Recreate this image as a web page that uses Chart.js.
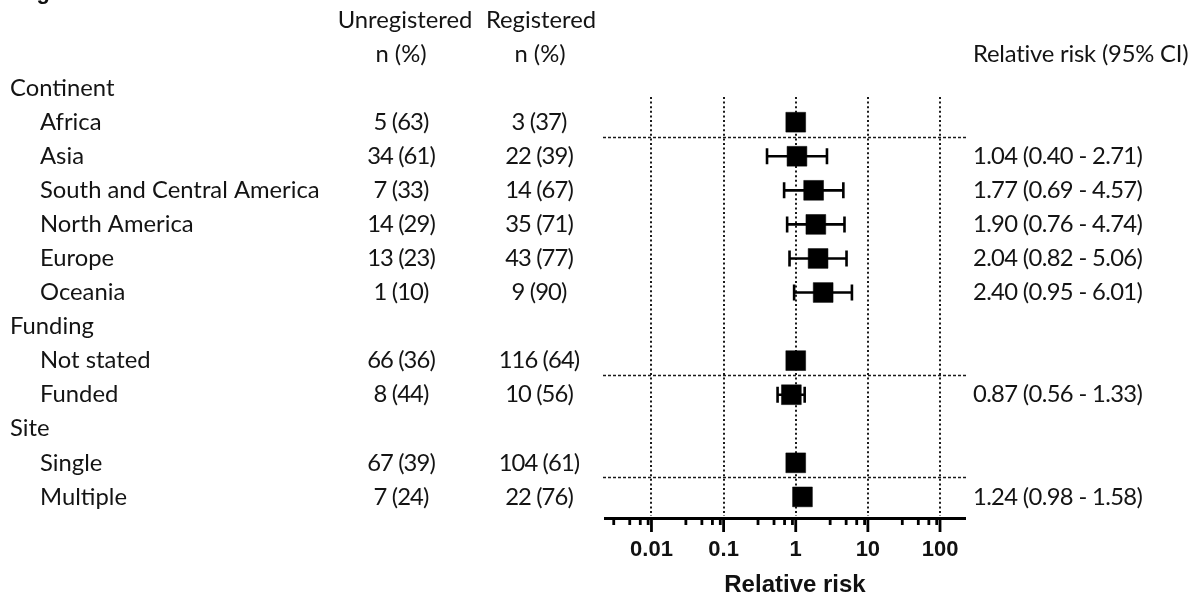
<!DOCTYPE html>
<html>
<head>
<meta charset="utf-8">
<script src="https://cdn.jsdelivr.net/npm/chart.js@4.4.0/dist/chart.umd.min.js"></script>
<style>
html,body{margin:0;padding:0;background:#fff;overflow:hidden;}
canvas{display:block;}
</style>
</head>
<body>
<canvas id="c" width="1203" height="598"></canvas>
<script>
// ---------- data ----------
const groups = ['Continent', 'Funding', 'Site'];
const items = ['Africa', 'Asia', 'South and Central America', 'North America', 'Europe', 'Oceania',
               'Not stated', 'Funded', 'Single', 'Multiple'];
const itemGroup = [0, 0, 0, 0, 0, 0, 1, 1, 2, 2];
const unregN   = [5, 34, 7, 14, 13, 1, 66, 8, 67, 7];
const unregPct = [63, 61, 33, 29, 23, 10, 36, 44, 39, 24];
const regN     = [3, 22, 14, 35, 43, 9, 116, 10, 104, 22];
const regPct   = [37, 39, 67, 71, 77, 90, 64, 56, 61, 76];
const rr       = [1, 1.04, 1.77, 1.90, 2.04, 2.40, 1, 0.87, 1, 1.24];
const ciLow    = [null, 0.40, 0.69, 0.76, 0.82, 0.95, null, 0.56, null, 0.98];
const ciHigh   = [null, 2.71, 4.57, 4.74, 5.06, 6.01, null, 1.33, null, 1.58];
const xTickValues = [0.01, 0.1, 1, 10, 100];
const xTickLabels = ['0.01', '0.1', '1', '10', '100'];
const minorMultipliers = [3, 5, 7, 9];
const headerTop = ['Unregistered', 'Registered'];
const headerSub = ['n (%)', 'n (%)', 'Relative risk (95% CI)'];
const xTitle = 'Relative risk';

// ---------- row layout (derived) ----------
const rows = [];
let r = 0;
groups.forEach((g, gi) => {
  rows.push({label: g, header: true, y: r++});
  items.forEach((it, ii) => {
    if (itemGroup[ii] === gi) rows.push({label: it, header: false, idx: ii, y: r++});
  });
});
const itemRow = {};
rows.forEach(row => { if (!row.header) itemRow[row.idx] = row.y; });
const refRows = items.map((_, i) => i).filter(i => ciLow[i] === null).map(i => itemRow[i]);
const points = items.map((_, i) => ({x: rr[i], y: itemRow[i]}));

const TXT = '#141414';
const TABLE_FONT = '23.8px Lato';
const COL_UNREG = 401, COL_REG = 539, COL_RR = 973;

const forestPlugin = {
  id: 'forest',
  beforeDatasetsDraw(chart) {
    const {ctx, chartArea: ca, scales: {x, y}} = chart;
    ctx.save();
    // dotted vertical grid lines at decades
    ctx.strokeStyle = '#1a1a1a';
    ctx.lineWidth = 2;
    ctx.setLineDash([2, 2.6]);
    xTickValues.forEach(v => {
      const px = Math.round(x.getPixelForValue(v));
      ctx.beginPath(); ctx.moveTo(px, ca.top); ctx.lineTo(px, ca.bottom - 2); ctx.stroke();
    });
    // dashed separators below reference rows
    ctx.setLineDash([3, 2]);
    ctx.lineWidth = 1.4;
    refRows.forEach(ry => {
      const py = Math.round(y.getPixelForValue(ry + 0.43)) + 0.5;
      ctx.beginPath(); ctx.moveTo(ca.left - 2, py); ctx.lineTo(ca.right + 3, py); ctx.stroke();
    });
    // error bars
    ctx.setLineDash([]);
    ctx.strokeStyle = '#000';
    ctx.lineWidth = 2.6;
    items.forEach((_, i) => {
      if (ciLow[i] === null) return;
      const py = y.getPixelForValue(itemRow[i]);
      const x1 = x.getPixelForValue(ciLow[i]);
      const x2 = x.getPixelForValue(ciHigh[i]);
      ctx.beginPath();
      ctx.moveTo(x1, py); ctx.lineTo(x2, py);
      ctx.moveTo(x1, py - 8); ctx.lineTo(x1, py + 8);
      ctx.moveTo(x2, py - 8); ctx.lineTo(x2, py + 8);
      ctx.stroke();
    });
    ctx.restore();
  },
  afterDraw(chart) {
    const {ctx, chartArea: ca, scales: {x, y}} = chart;
    ctx.save();
    // axis tick marks (major + minor)
    ctx.strokeStyle = '#000';
    ctx.lineWidth = 2.8;
    for (let d = -4; d <= 3; d++) {
      [1].concat(minorMultipliers).forEach(m => {
        const v = m * Math.pow(10, d);
        if (v < x.min || v > x.max) return;
        const px = x.getPixelForValue(v);
        const len = (m === 1) ? 14 : 7;
        ctx.beginPath(); ctx.moveTo(px, ca.bottom); ctx.lineTo(px, ca.bottom + len); ctx.stroke();
      });
    }
    // axis title
    ctx.fillStyle = '#111';
    ctx.font = 'bold 24px "Liberation Sans"';
    ctx.textAlign = 'center';
    ctx.textBaseline = 'middle';
    ctx.fillText(xTitle, 795, 585);
    // cut-off figure heading
    ctx.textAlign = 'left';
    ctx.textBaseline = 'alphabetic';
    ctx.font = 'bold 22px "Liberation Sans"';
    ctx.fillText('Fig', 17, -1);

    // table text
    ctx.fillStyle = TXT;
    ctx.font = TABLE_FONT;
    ctx.textBaseline = 'middle';
    const py = v => y.getPixelForValue(v);
    ctx.textAlign = 'center';
    ctx.fillText(headerTop[0], 405, py(-2));
    ctx.fillText(headerTop[1], 541, py(-2));
    ctx.fillText(headerSub[0], COL_UNREG, py(-1));
    ctx.fillText(headerSub[1], COL_REG + 1, py(-1));
    ctx.textAlign = 'left';
    ctx.letterSpacing = '-0.2px';
    ctx.fillText(headerSub[2], COL_RR, py(-1));
    rows.forEach(row => {
      const yy = py(row.y);
      ctx.letterSpacing = '0px';
      ctx.textAlign = 'left';
      ctx.fillText(row.label, row.header ? 10 : 40, yy);
      if (row.header) return;
      const i = row.idx;
      ctx.letterSpacing = '-0.9px';
      ctx.textAlign = 'center';
      ctx.fillText(unregN[i] + ' (' + unregPct[i] + ')', COL_UNREG, yy);
      ctx.fillText(regN[i] + ' (' + regPct[i] + ')', COL_REG, yy);
      if (ciLow[i] !== null) {
        ctx.letterSpacing = '-0.65px';
        ctx.textAlign = 'left';
        ctx.fillText(rr[i].toFixed(2) + ' (' + ciLow[i].toFixed(2) + ' - ' + ciHigh[i].toFixed(2) + ')', COL_RR, yy);
      }
    });
    ctx.restore();
  }
};

new Chart(document.getElementById('c'), {
  type: 'scatter',
  data: {
    datasets: [{
      data: points,
      pointStyle: 'rect',
      pointRadius: 14,
      pointHoverRadius: 14,
      backgroundColor: '#000',
      borderColor: '#000',
      borderWidth: 0.5
    }]
  },
  options: {
    responsive: false,
    animation: false,
    devicePixelRatio: 1,
    layout: {padding: {left: 605, right: 238, top: 97, bottom: 0}},
    plugins: {legend: {display: false}, tooltip: {enabled: false}},
    scales: {
      x: {
        type: 'logarithmic',
        min: 0.00227,
        max: 222,
        afterBuildTicks: s => { s.ticks = xTickValues.map(v => ({value: v})); },
        afterFit: s => { s.height = 80; },
        grid: {display: false, drawTicks: true, tickLength: 12},
        border: {display: true, color: '#000', width: 3},
        ticks: {
          autoSkip: false, maxRotation: 0, minRotation: 0, padding: 7,
          color: '#111',
          font: {family: 'Liberation Sans', size: 22, weight: 'bold'},
          callback: (v, i) => xTickLabels[i]
        }
      },
      y: {
        type: 'linear',
        display: false,
        reverse: true,
        min: 0.26,
        max: 12.62
      }
    }
  },
  plugins: [forestPlugin]
});
</script>
</body>
</html>
